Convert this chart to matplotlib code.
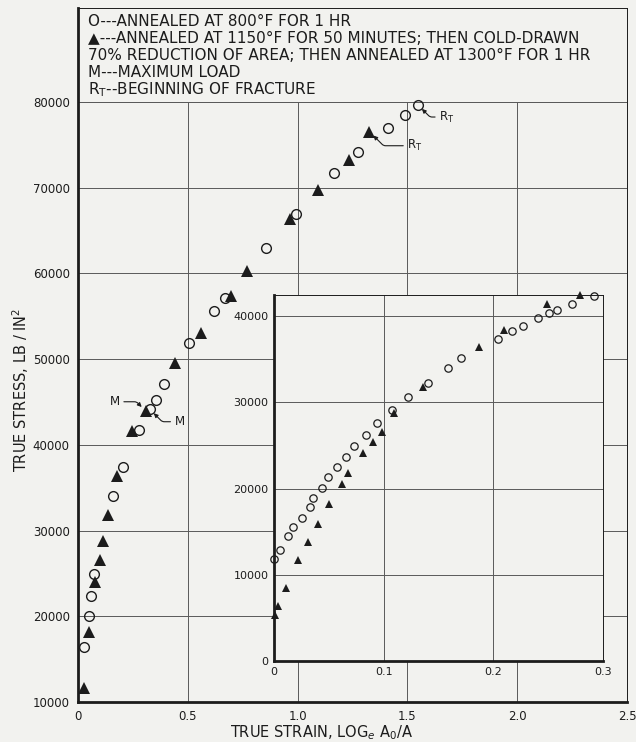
import matplotlib
matplotlib.use("Agg")
from matplotlib import pyplot as plt
from matplotlib.patches import Rectangle

# annealed at 800 F for 1 hr (open circles), full range
circ_strain = [0.027, 0.05, 0.058, 0.074, 0.158, 0.206, 0.279, 0.327, 0.355, 0.392,
               0.506, 0.618, 0.668, 0.855, 0.991, 1.168, 1.277, 1.41, 1.491, 1.548]
circ_stress = [16420, 20030, 22400, 24900, 34070, 37460, 41740, 44150, 45240, 47100,
               51860, 55620, 57140, 62970, 66940, 71690, 74210, 76940, 78500, 79660]

# annealed 1150 F, cold-drawn, annealed 1300 F (filled triangles), full range
tri_strain = [0.027, 0.05, 0.077, 0.1, 0.112, 0.138, 0.176, 0.247, 0.308, 0.441,
              0.562, 0.695, 0.768, 0.964, 1.091, 1.233, 1.327]
tri_stress = [11630, 18200, 24040, 26570, 28790, 31780, 36370, 41660, 43960, 49520,
              53020, 57370, 60290, 66360, 69740, 73240, 76550]

# small strain detail (inset)
circ_strain_s = [0.0003, 0.0055, 0.013, 0.0176, 0.0253, 0.0328, 0.0353, 0.0435, 0.0495,
                 0.0577, 0.0657, 0.0732, 0.0839, 0.0936, 0.1073, 0.1219, 0.1401, 0.1584,
                 0.1703, 0.2043, 0.2168, 0.2271, 0.2411, 0.2511, 0.2578, 0.2717, 0.2916]
circ_stress_s = [11790, 12870, 14530, 15500, 16540, 17820, 18860, 20060, 21300,
                 22460, 23650, 24890, 26240, 27630, 29100, 30610, 32270, 34010,
                 35170, 37330, 38300, 38800, 39730, 40350, 40730, 41430, 42350]
tri_strain_s = [0.0009, 0.0034, 0.0107, 0.0216, 0.0313, 0.0398, 0.0504, 0.0617, 0.0678,
                0.0809, 0.09, 0.0981, 0.1097, 0.1362, 0.1867, 0.21, 0.2493, 0.2791]
tri_stress_s = [5330, 6410, 8500, 11670, 13760, 15850, 18170, 20520, 21760,
                24150, 25430, 26600, 28720, 31800, 36360, 38380, 41430, 42430]

main_xticks = [0, 0.5, 1.0, 1.5, 2.0, 2.5]
main_xlabels = ["0", "0.5", "1.0", "1.5", "2.0", "2.5"]
main_yticks = [10000, 20000, 30000, 40000, 50000, 60000, 70000, 80000]
ins_xticks = [0, 0.1, 0.2, 0.3]
ins_xlabels = ["0", "0.1", "0.2", "0.3"]
ins_yticks = [0, 10000, 20000, 30000, 40000]

legend_lines = [
    "O---ANNEALED AT 800°F FOR 1 HR",
    "▲---ANNEALED AT 1150°F FOR 50 MINUTES; THEN COLD-DRAWN",
    "70% REDUCTION OF AREA; THEN ANNEALED AT 1300°F FOR 1 HR",
    "M---MAXIMUM LOAD",
    r"R$_\mathrm{T}$--BEGINNING OF FRACTURE",
]

bg = "#f2f2ef"
ink = "#1c1c1c"
gridc = "#5a5a5a"

plt.rcParams["font.family"] = ["DejaVu Sans"]
fig = plt.figure(figsize=(6.36, 7.42), dpi=100, facecolor=bg)

ax = fig.add_axes([78 / 636, 1 - 702 / 742, 549 / 636, 694 / 742], facecolor=bg)
ax.set_xlim(0, 2.5)
ax.set_ylim(10000, 90970)
ax.set_axisbelow(True)
ax.set_xticks(main_xticks)
ax.set_xticklabels(main_xlabels)
ax.set_yticks(main_yticks)
ax.tick_params(length=0, labelsize=8.5, colors=ink, pad=6)
ax.grid(True, color=gridc, linewidth=0.7)
for s in ["left", "bottom"]:
    ax.spines[s].set_linewidth(2.0)
for s in ["top", "right"]:
    ax.spines[s].set_linewidth(0.7)
for s in ax.spines.values():
    s.set_color(ink)

# box for the key, hides the grid above 80000
ax.add_patch(Rectangle((0, 80000), 2.5, 10970, facecolor=bg, edgecolor="none", zorder=1))
ax.axhline(80000, color=gridc, linewidth=0.7, zorder=1.1)
for i, line in enumerate(legend_lines):
    ax.text(0.018, 0.981 - i * 0.0245, line, transform=ax.transAxes, fontsize=11,
            color=ink, va="center", ha="left")

ax.plot(circ_strain, circ_stress, "o", ms=7, mfc="none", mec=ink, mew=1.0, zorder=3)
ax.plot(tri_strain, tri_stress, "^", ms=8, color=ink, mew=0, zorder=3)

ax.set_xlabel(r"TRUE STRAIN, LOG$_e$ A$_0$/A", fontsize=10.5, color=ink)
ax.set_ylabel(r"TRUE STRESS, LB / IN$^2$", fontsize=10.5, color=ink)
ax.xaxis.set_label_coords(0.444, -0.030)
ax.yaxis.set_label_coords(-0.086, 0.45)

arr = dict(arrowstyle="-|>", color=ink, lw=0.8, mutation_scale=6, shrinkA=1, shrinkB=4)
ax.annotate("M", xy=(tri_strain[8], tri_stress[8]), xytext=(0.19, 45030), fontsize=8.5,
            color=ink, ha="right", va="center",
            arrowprops=dict(arr, connectionstyle="angle,angleA=0,angleB=135,rad=2"))
ax.annotate("M", xy=(circ_strain[7], circ_stress[7]), xytext=(0.44, 42700), fontsize=8.5,
            color=ink, ha="left", va="center",
            arrowprops=dict(arr, connectionstyle="angle,angleA=0,angleB=-45,rad=2"))
ax.annotate(r"R$_\mathrm{T}$", xy=(circ_strain[-1], circ_stress[-1]), xytext=(1.645, 78250),
            fontsize=8.5, color=ink, ha="left", va="center",
            arrowprops=dict(arr, connectionstyle="angle,angleA=0,angleB=-45,rad=2"))
ax.annotate(r"R$_\mathrm{T}$", xy=(tri_strain[-1], tri_stress[-1]), xytext=(1.5, 74900),
            fontsize=8.5, color=ink, ha="left", va="center",
            arrowprops=dict(arr, connectionstyle="angle,angleA=0,angleB=-45,rad=2"))

# inset, small strains
ins = fig.add_axes([274 / 636, 1 - 661 / 742, 329 / 636, 366 / 742], facecolor=bg)
ins.set_xlim(0, 0.3)
ins.set_ylim(0, 42435)
ins.set_axisbelow(True)
ins.set_xticks(ins_xticks)
ins.set_xticklabels(ins_xlabels)
ins.set_yticks(ins_yticks)
ins.tick_params(length=0, labelsize=8, colors=ink, pad=4)
ins.grid(True, color=gridc, linewidth=0.7)
for s in ["left", "bottom"]:
    ins.spines[s].set_linewidth(2.0)
for s in ["top", "right"]:
    ins.spines[s].set_linewidth(0.7)
for s in ins.spines.values():
    s.set_color(ink)

ins.plot(circ_strain_s, circ_stress_s, "o", ms=5.3, mfc="none", mec=ink, mew=0.9,
         zorder=3, clip_on=False)
ins.plot(tri_strain_s, tri_stress_s, "^", ms=6, color=ink, mew=0, zorder=3, clip_on=False)

fig.savefig("out.png", dpi=100, facecolor=bg)
